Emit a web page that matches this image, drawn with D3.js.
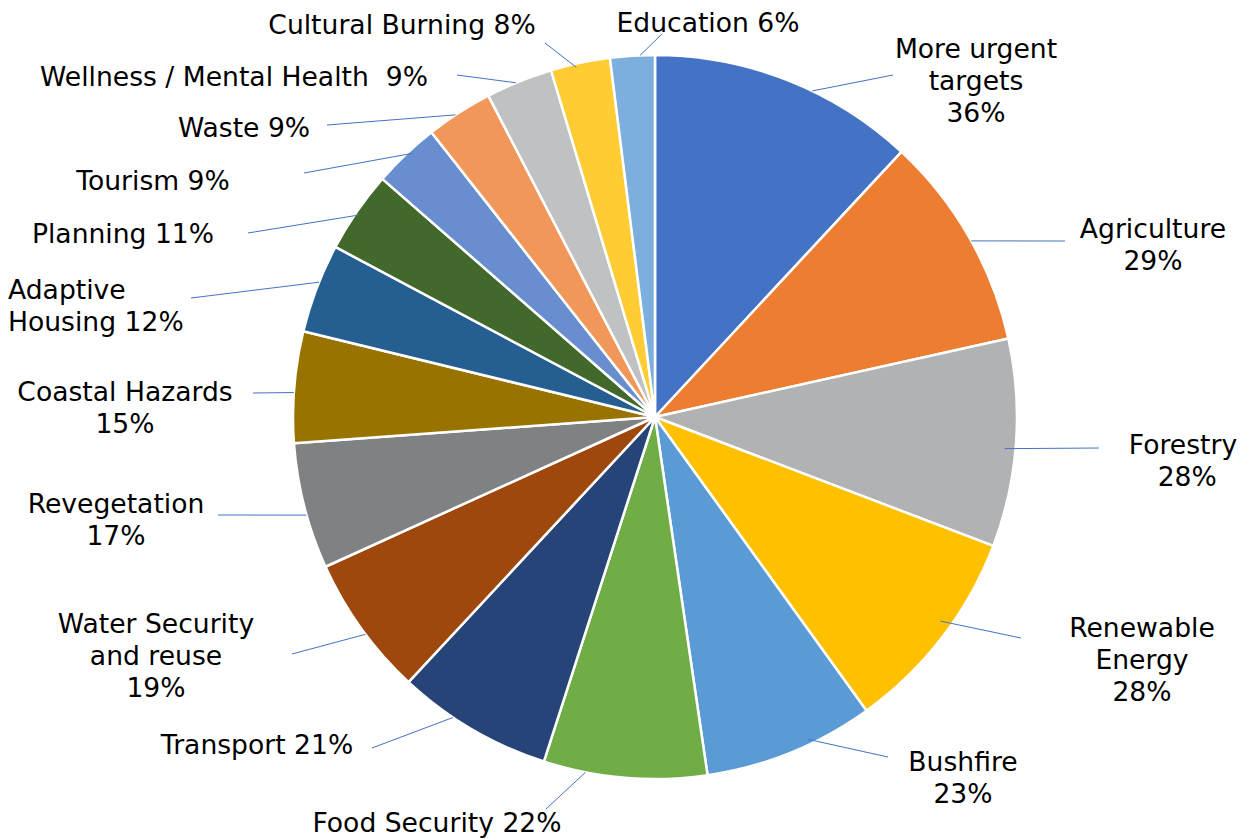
<!DOCTYPE html>
<html>
<head>
<meta charset="utf-8">
<script src="https://cdn.jsdelivr.net/npm/d3@7"></script>
<style>
  html, body { margin: 0; padding: 0; background: #ffffff; }
  svg { display: block; }
  text { font-family: "DejaVu Sans", Verdana, sans-serif; font-size: 26.6px; fill: #000000; white-space: pre; }
</style>
</head>
<body>
<svg id="chart" width="1243" height="839"></svg>
<script>
// Survey responses: share of respondents naming each priority area
const categories = [
  "More urgent targets", "Agriculture", "Forestry", "Renewable Energy", "Bushfire",
  "Food Security", "Transport", "Water Security and reuse", "Revegetation",
  "Coastal Hazards", "Adaptive Housing", "Planning", "Tourism", "Waste",
  "Wellness / Mental Health", "Cultural Burning", "Education"
];
const shares = [36, 29, 28, 28, 23, 22, 21, 19, 17, 15, 12, 11, 9, 9, 9, 8, 6];

// How each label breaks into lines ("{v}" is the percentage)
const labelTemplates = [
  "More urgent|targets|{v}", "Agriculture|{v}", "Forestry| {v}", "Renewable|Energy|{v}",
  "Bushfire|{v}", "Food Security {v}", "Transport {v}", "Water Security|and reuse|{v}",
  "Revegetation|{v}", "Coastal Hazards|{v}", "Adaptive|Housing {v}", "Planning {v}",
  "Tourism {v}", "Waste {v}", "Wellness / Mental Health  {v}", "Cultural Burning {v}",
  "Education {v}"
];

const sliceColors = [
  "#4472C4", "#ED7D31", "#B1B2B3", "#FFC000", "#5B9BD5", "#70AD47", "#264478",
  "#9E480E", "#808182", "#997300", "#255E91", "#43682B", "#698ED0", "#F1975A",
  "#C0C1C2", "#FFCD33", "#7CAFDD"
];

// Label placement: text anchor point, where along the slice the leader starts, leader end
const labelLayout = [
  { x: 976,  y: 58,  anchor: "middle", f: 0.60, k: 1.00, ex: 893,  ey: 75 },
  { x: 1153, y: 238, anchor: "middle", f: 0.52, k: 1.00, ex: 1065, ey: 241 },
  { x: 1183, y: 454, anchor: "middle", f: 0.53, k: 0.97, ex: 1099, ey: 448 },
  { x: 1142, y: 637, anchor: "middle", f: 0.44, k: 0.97, ex: 1021, ey: 638 },
  { x: 963,  y: 771, anchor: "middle", f: 0.38, k: 0.985, ex: 888, ey: 757 },
  { x: 437,  y: 832, anchor: "middle", f: 0.74, k: 1.00, ex: 546,  ey: 809 },
  { x: 257,  y: 754, anchor: "middle", f: 0.64, k: 1.00, ex: 372,  ey: 748 },
  { x: 156,  y: 633, anchor: "middle", f: 0.45, k: 1.00, ex: 292,  ey: 654 },
  { x: 116,  y: 513, anchor: "middle", f: 0.43, k: 1.00, ex: 218,  ey: 515 },
  { x: 125,  y: 401, anchor: "middle", f: 0.45, k: 1.00, ex: 253,  ey: 393 },
  { x: 8,    y: 299, anchor: "start",  f: 0.57, k: 1.00, ex: 191,  ey: 298 },
  { x: 123,  y: 243, anchor: "middle", f: 0.48, k: 0.99, ex: 248,  ey: 233 },
  { x: 153,  y: 190, anchor: "middle", f: 0.58, k: 0.99, ex: 304,  ey: 173 },
  { x: 244,  y: 137, anchor: "middle", f: 0.44, k: 1.00, ex: 327,  ey: 125 },
  { x: 234,  y: 86,  anchor: "middle", f: 0.45, k: 1.00, ex: 457,  ey: 75 },
  { x: 402,  y: 34,  anchor: "middle", f: 0.42, k: 0.99, ex: 545,  ey: 43 },
  { x: 708,  y: 32,  anchor: "middle", f: 0.67, k: 1.00, ex: 662,  ey: 34 }
];

const cx = 655, cy = 417, radius = 362, lineGap = 32;

const svg = d3.select("#chart");
const g = svg.append("g").attr("transform", `translate(${cx},${cy})`);

const color = d3.scaleOrdinal().domain(categories).range(sliceColors);

const pie = d3.pie().sort(null).value((d, i) => shares[i]);
const arcs = pie(categories);

const arc = d3.arc().innerRadius(0).outerRadius(radius);

g.selectAll("path.slice")
  .data(arcs)
  .join("path")
  .attr("class", "slice")
  .attr("d", arc)
  .attr("fill", d => color(d.data))
  .attr("stroke", "#ffffff")
  .attr("stroke-width", 2.5)
  .attr("stroke-linejoin", "round");

// Leader lines from each slice's rim out to its label
function rimPoint(a, i) {
  const L = labelLayout[i];
  const ang = a.startAngle + L.f * (a.endAngle - a.startAngle);
  const r = radius * L.k;
  return [cx + r * Math.sin(ang), cy - r * Math.cos(ang)];
}

svg.selectAll("line.leader")
  .data(arcs)
  .join("line")
  .attr("class", "leader")
  .attr("x1", (d, i) => rimPoint(d, i)[0])
  .attr("y1", (d, i) => rimPoint(d, i)[1])
  .attr("x2", (d, i) => labelLayout[i].ex)
  .attr("y2", (d, i) => labelLayout[i].ey)
  .attr("stroke", "#4472C4")
  .attr("stroke-width", 1);

// Labels
const labels = svg.selectAll("text.label")
  .data(arcs)
  .join("text")
  .attr("class", "label")
  .attr("text-anchor", (d, i) => labelLayout[i].anchor)
  .attr("x", (d, i) => labelLayout[i].x)
  .attr("y", (d, i) => labelLayout[i].y);

labels.each(function (d, i) {
  const lines = labelTemplates[i].replace("{v}", shares[i] + "%").split("|");
  const t = d3.select(this);
  lines.forEach((ln, j) => {
    t.append("tspan")
      .attr("x", labelLayout[i].x)
      .attr("y", labelLayout[i].y + j * lineGap)
      .text(ln);
  });
});
</script>
</body>
</html>
